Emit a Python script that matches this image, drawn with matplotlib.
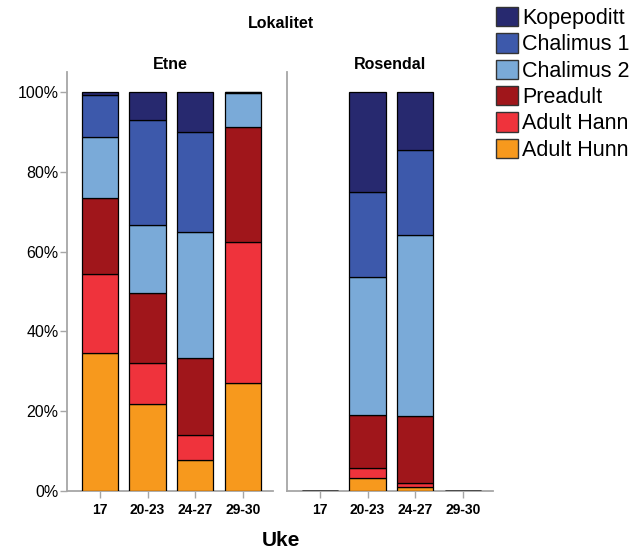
import matplotlib
matplotlib.use("Agg")
import matplotlib.pyplot as plt
from matplotlib.patches import Patch
import numpy as np

plt.rcParams['font.family'] = ['Liberation Sans', 'DejaVu Sans']

weeks = ["17", "20-23", "24-27", "29-30"]
stages = ["Adult Hunn", "Adult Hann", "Preadult", "Chalimus 2", "Chalimus 1", "Kopepoditt"]
colors = ["#f7991d", "#ef333c", "#a0161b", "#7aaad8", "#3d59ab", "#27296f"]

# Percent of lice in each stage per week group
etne_hunn = [34.6, 21.8, 7.8, 27.1]
etne_hann = [19.8, 10.3, 6.2, 35.3]
etne_preadult = [19.0, 17.5, 19.3, 28.8]
etne_chal2 = [15.3, 17.1, 31.6, 8.5]
etne_chal1 = [10.5, 26.3, 25.1, 0.2]
etne_kope = [0.8, 7.0, 10.0, 0.1]

rosendal_hunn = [0, 3.3, 1.0, 0]
rosendal_hann = [0, 2.5, 1.0, 0]
rosendal_preadult = [0, 13.2, 16.8, 0]
rosendal_chal2 = [0, 34.6, 45.4, 0]
rosendal_chal1 = [0, 21.3, 21.3, 0]
rosendal_kope = [0, 25.1, 14.5, 0]

panels = {
    "Etne": [etne_hunn, etne_hann, etne_preadult, etne_chal2, etne_chal1, etne_kope],
    "Rosendal": [rosendal_hunn, rosendal_hann, rosendal_preadult, rosendal_chal2,
                 rosendal_chal1, rosendal_kope],
}

W, H = 630, 554
fig = plt.figure(figsize=(W / 100, H / 100), dpi=100)

def px_axes(l, r, b, t):
    return fig.add_axes([l / W, 1 - b / H, (r - l) / W, (b - t) / H])

ax1 = px_axes(67, 273, 491, 72)
ax2 = px_axes(287, 493, 491, 72)
spine_col = "#a6a6a6"

for ax, (name, series) in zip([ax1, ax2], panels.items()):
    x = np.arange(len(weeks))
    bottom = np.zeros(len(weeks))
    for vals, col in zip(series, colors):
        v = np.array(vals, dtype=float)
        ax.bar(x, v, bottom=bottom, width=0.76, color=col,
               edgecolor="black", linewidth=0.9, zorder=3)
        bottom += v
    ax.set_xlim(-0.69, 3.63)
    ax.set_ylim(0, 105)
    ax.set_xticks(x)
    ax.set_xticklabels(weeks, fontsize=10, fontweight="bold")
    ax.tick_params(axis="x", length=5, color=spine_col, width=1, pad=4)
    for s in ["top", "right"]:
        ax.spines[s].set_visible(False)
    for s in ["left", "bottom"]:
        ax.spines[s].set_color(spine_col)
        ax.spines[s].set_linewidth(1.3)
    ax.set_title(name, fontsize=11.5, fontweight="bold", pad=1)

ax1.set_yticks([0, 20, 40, 60, 80, 100])
ax1.set_yticklabels(["0%", "20%", "40%", "60%", "80%", "100%"], fontsize=11.5)
ax1.tick_params(axis="y", length=5, color=spine_col, width=1, pad=1)
ax2.set_yticks([])

fig.text(281 / W, 1 - 23 / H, "Lokalitet", ha="center", va="center",
         fontsize=11.5, fontweight="bold")
fig.text(281 / W, 1 - 540 / H, "Uke", ha="center", va="center",
         fontsize=15, fontweight="bold")

handles = [Patch(facecolor=c, edgecolor="#333333", linewidth=1.0, label=s)
           for s, c in zip(stages[::-1], colors[::-1])]
fig.legend(handles=handles, loc="upper left", bbox_to_anchor=(496 / W, 1 - 7 / H),
           frameon=False, fontsize=15.5, handlelength=1.0, handleheight=1.0,
           handletextpad=0.2, labelspacing=0.2, borderpad=0, borderaxespad=0)

fig.savefig("out.png", dpi=100)
